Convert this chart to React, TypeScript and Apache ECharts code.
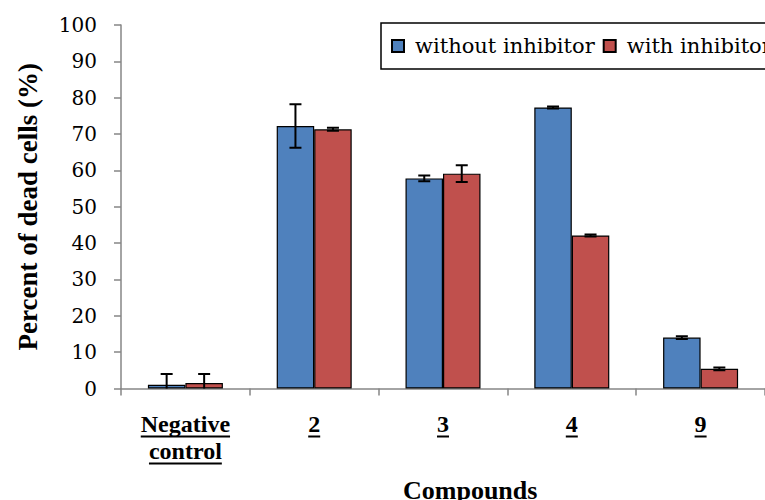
import React, { useEffect, useRef } from "react";
import * as echarts from "echarts";

const categories = ["Negative\ncontrol", "2", "3", "4", "9"];
const withoutInhibitor = [1.0, 72.2, 57.8, 77.3, 14.0];
const withInhibitor = [1.5, 71.3, 59.1, 42.1, 5.4];
const withoutErr = [3.0, 6.0, 0.8, 0.3, 0.4];
const withErr = [2.5, 0.4, 2.3, 0.3, 0.4];
const yTicks = { min: 0, max: 100, interval: 10 };

const FONT = "Liberation Serif";
const REG_FONT = "DejaVu Serif";
const BLUE = "#4F81BD";
const RED = "#C0504D";
const AXIS = "#868686";
const BAR_W = 37.5;
const LABEL_SIZE = 24;
const LABEL_LINE = 27;
const LABEL_MARGIN = 22;

function errorSeries(values: number[], errs: number[], offset: number) {
  return {
    type: "custom",
    clip: true,
    silent: true,
    z: 5,
    data: values.map((v, i) => [i, v, errs[i]]),
    renderItem: (_p: any, api: any) => {
      const x = api.value(0);
      const v = api.value(1);
      const e = api.value(2);
      const hi = api.coord([x, v + e]);
      const lo = api.coord([x, v - e]);
      const cx = hi[0] + offset;
      const half = 6;
      const style = { stroke: "#000", lineWidth: 2 };
      return {
        type: "group",
        children: [
          { type: "line", shape: { x1: cx, y1: hi[1], x2: cx, y2: lo[1] }, style },
          { type: "line", shape: { x1: cx - half, y1: hi[1], x2: cx + half, y2: hi[1] }, style },
          { type: "line", shape: { x1: cx - half, y1: lo[1], x2: cx + half, y2: lo[1] }, style },
        ],
      };
    },
  };
}

export default function App() {
  const ref = useRef<HTMLDivElement>(null);

  useEffect(() => {
    if (!ref.current) return;
    const chart = echarts.init(ref.current, null, { renderer: "svg" });
    chart.setOption({
      animation: false,
      backgroundColor: "#fff",
      textStyle: { fontFamily: FONT },
      grid: { left: 121, top: 25, width: 650, height: 363.5, containLabel: false },
      legend: {
        data: ["without inhibitor", "with inhibitor"],
        left: 381,
        top: 23,
        width: 480,
        orient: "horizontal",
        padding: [12, 10, 12, 10],
        borderColor: "#000",
        borderWidth: 1.5,
        itemWidth: 12,
        itemHeight: 12,
        itemGap: 8,
        icon: "rect",
        itemStyle: { borderColor: "#000", borderWidth: 2 },
        textStyle: {
          fontFamily: REG_FONT,
          fontSize: 21,
          lineHeight: 22,
          color: "#000",
          padding: [0, 0, 0, 6],
        },
      },
      xAxis: {
        type: "category",
        data: categories,
        axisLine: { lineStyle: { color: AXIS, width: 1.5 } },
        axisTick: { show: true, length: 7, lineStyle: { color: AXIS, width: 1.5 } },
        axisLabel: {
          color: "#000",
          fontFamily: FONT,
          fontWeight: "bold",
          fontSize: LABEL_SIZE,
          lineHeight: LABEL_LINE,
          margin: LABEL_MARGIN,
          interval: 0,
        },
      },
      yAxis: {
        type: "value",
        min: yTicks.min,
        max: yTicks.max,
        interval: yTicks.interval,
        name: "Percent of dead cells (%)",
        nameLocation: "middle",
        nameRotate: 90,
        nameGap: 80,
        nameTextStyle: { fontFamily: FONT, fontWeight: "bold", fontSize: 27, color: "#000" },
        axisLine: { show: true, lineStyle: { color: AXIS, width: 1.5 } },
        axisTick: { show: true, length: 7, lineStyle: { color: AXIS, width: 1.5 } },
        splitLine: { show: false },
        axisLabel: { color: "#000", fontFamily: REG_FONT, fontSize: 20, margin: 24 },
      },
      series: [
        {
          name: "without inhibitor",
          type: "bar",
          data: withoutInhibitor,
          barWidth: BAR_W,
          barGap: "0%",
          itemStyle: { color: BLUE, borderColor: "#000", borderWidth: 1.2 },
        },
        {
          name: "with inhibitor",
          type: "bar",
          data: withInhibitor,
          barWidth: BAR_W,
          barGap: "0%",
          itemStyle: { color: RED, borderColor: "#000", borderWidth: 1.2 },
        },
        errorSeries(withoutInhibitor, withoutErr, -BAR_W / 2),
        errorSeries(withInhibitor, withErr, BAR_W / 2),
      ],
    });

    // Underlines beneath each category label, placed from the axis scale
    const ctx = document.createElement("canvas").getContext("2d");
    const axisY = chart.convertToPixel({ yAxisIndex: 0 }, 0) as number;
    const lines: any[] = [];
    categories.forEach((cat, i) => {
      const cx = chart.convertToPixel({ xAxisIndex: 0 }, i) as number;
      cat.split("\n").forEach((part, row) => {
        let w = part.length * LABEL_SIZE * 0.5;
        if (ctx) {
          ctx.font = `bold ${LABEL_SIZE}px ${FONT}`;
          w = ctx.measureText(part).width;
        }
        const y = axisY + LABEL_MARGIN + LABEL_LINE * (row + 1) - 1;
        lines.push({
          type: "line",
          silent: true,
          shape: { x1: cx - w / 2, y1: y, x2: cx + w / 2, y2: y },
          style: { stroke: "#000", lineWidth: 2 },
        });
      });
    });
    lines.push({
      type: "text",
      left: 403,
      top: 477,
      style: {
        text: "Compounds",
        fontFamily: FONT,
        fontWeight: "bold",
        fontSize: 26,
        fill: "#000",
      },
    });
    chart.setOption({ graphic: lines });

    return () => chart.dispose();
  }, []);

  return (
    <div
      ref={ref}
      style={{ position: "absolute", left: 0, top: 0, width: 765, height: 500 }}
    />
  );
}
